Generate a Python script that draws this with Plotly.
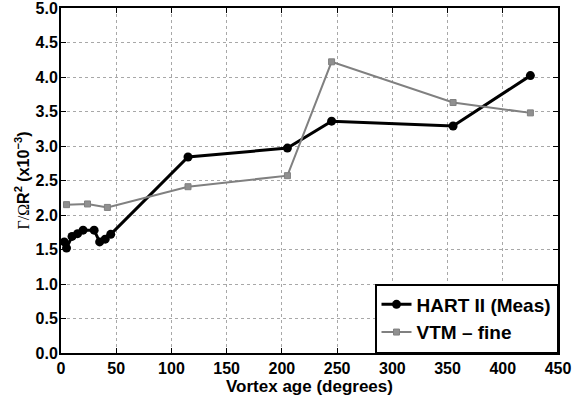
import plotly.graph_objects as go

# Measured circulation (HART II)
meas_age = [3, 5, 10, 15, 20, 30, 35, 40, 45, 115, 205, 245, 355, 425]
meas_gamma = [1.61, 1.52, 1.69, 1.73, 1.78, 1.78, 1.61, 1.65, 1.72, 2.84, 2.97, 3.36, 3.29, 4.02]

# VTM fine-grid prediction
vtm_age = [5, 24, 42, 115, 205, 245, 355, 425]
vtm_gamma = [2.15, 2.16, 2.11, 2.41, 2.57, 4.22, 3.63, 3.48]

x_ticks = [0, 50, 100, 150, 200, 250, 300, 350, 400, 450]
y_ticks = [0.0, 0.5, 1.0, 1.5, 2.0, 2.5, 3.0, 3.5, 4.0, 4.5, 5.0]

FONT = "Liberation Sans"

fig = go.Figure()
fig.add_trace(go.Scatter(
    x=meas_age, y=meas_gamma, mode="lines+markers", name="<b>HART II (Meas)</b>",
    line=dict(color="black", width=3),
    marker=dict(symbol="circle", size=9, color="black"),
))
fig.add_trace(go.Scatter(
    x=vtm_age, y=vtm_gamma, mode="lines+markers", name="<b>VTM – fine</b>",
    line=dict(color="#808080", width=2),
    marker=dict(symbol="square", size=6, color="#909090", line=dict(color="#808080", width=1)),
))

axis_common = dict(
    showline=True, linecolor="black", linewidth=2, mirror="ticks",
    ticks="inside", ticklen=5, tickcolor="black", tickwidth=1,
    showgrid=True, gridcolor="#a8a8a8", griddash="dot", gridwidth=1,
    zeroline=False, automargin=False, ticklabeloverflow="allow",
    tickfont=dict(family=FONT, size=16, color="black", weight="bold"),
)

fig.update_xaxes(
    range=[0, 450], tickvals=x_ticks, ticktext=[f"<b>{v}</b>" for v in x_ticks],
    title=dict(text="<b>Vortex age (degrees)</b>", font=dict(family=FONT, size=17, color="black"), standoff=0),
    **axis_common,
)
fig.update_yaxes(
    range=[0, 5], tickvals=y_ticks, ticktext=[f"<b>{v:.1f}</b>" for v in y_ticks],
    title=dict(
        text="<span style=\"font-family:'Liberation Serif'\">Γ/Ω</span><b>R<sup>2</sup> (x10<sup>−3</sup>)</b>",
        font=dict(family=FONT, size=16, color="black"), standoff=2,
    ),
    ticklabelstandoff=-2,
    **axis_common,
)

fig.update_layout(
    width=572, height=399,
    margin=dict(l=61, r=14, t=8, b=46),
    plot_bgcolor="white", paper_bgcolor="white",
    font=dict(family=FONT, color="black"),
    legend=dict(
        x=1, y=0, xanchor="right", yanchor="bottom",
        bgcolor="white", bordercolor="black", borderwidth=1.5,
        font=dict(family=FONT, size=19, color="black"),
        itemwidth=30, tracegroupgap=0,
    ),
)

fig.write_html("out.html")
